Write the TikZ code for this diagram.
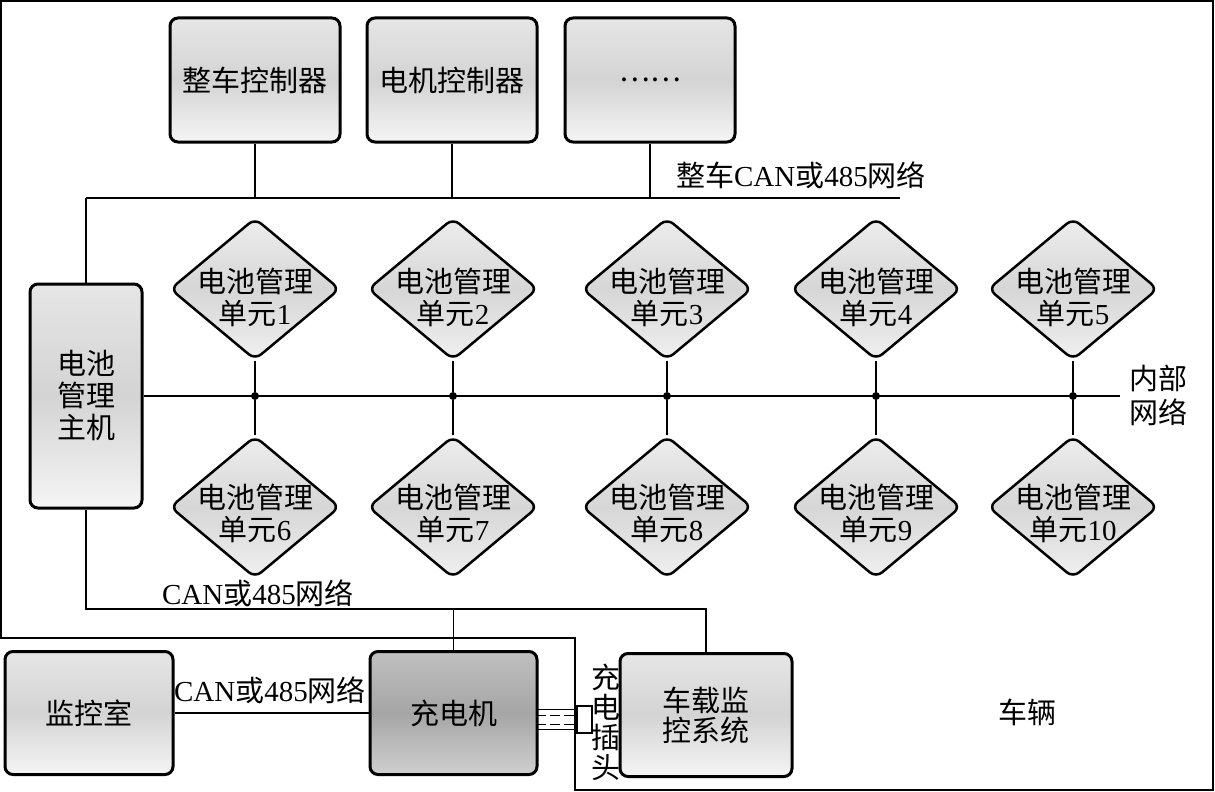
\documentclass[tikz,border=0pt]{standalone}
\usepackage{fontspec}
\setmainfont{Liberation Serif}
\newfontfamily\cjk{Noto Sans CJK SC}
\newcommand{\rmtxt}[1]{{\rmfamily #1}}
\usepackage{tikz}
\usetikzlibrary{calc}
\usetikzlibrary{shapes.geometric}
\usetikzlibrary{backgrounds}
\tikzset{
	% Node styles: controller boxes, battery units and bus junctions
	ecu node/.style={rectangle,draw,line width=3pt,rounded corners=8pt,top color=gray!20,bottom color=gray!8,middle color=gray!34,minimum width=170pt,minimum height=124pt,inner sep=0pt},
	dark node/.style={ecu node,top color=gray!50,bottom color=gray!38,middle color=gray!70},
	unit node/.style={diamond,draw,line width=2.5pt,rounded corners=8pt,top color=gray!14,bottom color=gray!12,middle color=gray!32,minimum width=170pt,minimum height=142pt,inner sep=0pt},
	junction/.style={circle,fill=black,inner sep=0pt,minimum size=8pt},
	bus/.style={line width=1.2pt}
}

\begin{document}
\begin{tikzpicture}[x=1pt,y=-1pt,font=\fontsize{29}{32}\selectfont\cjk]
	\useasboundingbox (0,0) rectangle (1215,792);
	% macro for the battery management units
	\newcommand{\bmsunit}[4]{\node[unit node](#1)at(#2){};\node[align=center](#1-t)at($(#1)+(0,#3)$){电池管理\\单元\rmtxt{#4}};}
	
	% vehicle outline
	\draw[line width=1.6pt](1,1)--(1213,1)--(1213,790)--(575,790)--(575,638)--(1,638)--cycle;
	\node(car-lbl)at(1027,712){车辆};
	
	% controllers on the vehicle bus
	\node[ecu node](vcu)at(255,80){整车控制器};
	\node[ecu node](mcu)at(452,80){电机控制器};
	\node[ecu node](etc)at(650,80){……};
	\node[ecu node,minimum width=112pt,minimum height=224pt,align=center](host)at(86,396){电池\\管理\\主机};
	
	% battery management units
	\bmsunit{u1}{255,289}{8}{1}
	\bmsunit{u2}{453,289}{8}{2}
	\bmsunit{u3}{667,289}{8}{3}
	\bmsunit{u4}{876,289}{8}{4}
	\bmsunit{u5}{1073,289}{8}{5}
	\bmsunit{u6}{255,507}{6}{6}
	\bmsunit{u7}{453,507}{6}{7}
	\bmsunit{u8}{667,507}{6}{8}
	\bmsunit{u9}{876,507}{6}{9}
	\bmsunit{u10}{1073,507}{6}{10}
	
	% charging side
	\node[ecu node,minimum width=168pt,minimum height=123pt](mon)at(89,713){监控室};
	\node[dark node,minimum width=167pt,minimum height=123pt](chg)at(453.5,713){充电机};
	\node[ecu node,minimum width=172pt,minimum height=123pt,align=center,font=\fontsize{29}{30}\selectfont\cjk](vms)at(706,715){车载监\\控系统};
	\node[draw,line width=2.5pt,fill=white,minimum width=15pt,minimum height=27pt,inner sep=0pt](plug)at(584.5,719.5){};
	\node[align=center,font=\fontsize{29}{30}\selectfont\cjk](plug-lbl)at(606,722){充\\电\\插\\头};
	
	% bus coordinates
	\coordinate(tbus-l)at(86,198);
	\coordinate(tbus-r)at(900,198);
	\coordinate(ibus-r)at(1120,396);
	\coordinate(bbus-l)at(86,609);
	\coordinate(bbus-r)at(vms.north|-bbus-l);
	
	% junctions on the internal network
	\foreach \u/\j in {u1/j1,u2/j2,u3/j3,u4/j4,u5/j5}
		\node[junction](\j)at(\u|-host){};
	
	\begin{scope}[on background layer]
		% vehicle CAN or 485 bus
		\draw[bus](tbus-l)--(tbus-r);
		\draw[bus](tbus-l)--(host.north);
		\foreach \n in {vcu,mcu,etc}
			\draw[bus](\n.south)--(\n.south|-tbus-l);
		% internal network
		\draw[bus](host.east)--(ibus-r);
		\foreach \a/\b/\j in {u1/u6/j1,u2/u7/j2,u3/u8/j3,u4/u9/j4,u5/u10/j5}
			\draw[bus](\a)--(\j)--(\b);
		% lower CAN or 485 bus
		\draw[bus](host.south)--(bbus-l)--(bbus-r)--(vms.north);
		\draw[bus](chg.north)--(chg.north|-bbus-l);
		\draw[bus](mon.east)--(mon.east-|chg.west);
		% charging cable
		\draw[line width=1.6pt]($(plug.west)+(0,-10)$)--++(-40,0) ($(plug.west)+(0,10)$)--++(-40,0);
		\draw[line width=1.4pt,dash pattern=on 10pt off 4pt]($(plug.west)+(-2,-4)$)--++(-36,0) ($(plug.west)+(-2,5)$)--++(-36,0);
	\end{scope}
	
	% network labels
	\node(tbus-lbl)at(801,175){整车\rmtxt{CAN}或\rmtxt{485}网络};
	\node[align=center,font=\fontsize{29}{34}\selectfont\cjk](ibus-lbl)at(1158,395){内部\\网络};
	\node(bbus-lbl)at(258,593){\rmtxt{CAN}或\rmtxt{485}网络};
	\node(link-lbl)at(270,690){\rmtxt{CAN}或\rmtxt{485}网络};
\end{tikzpicture}
\end{document}
